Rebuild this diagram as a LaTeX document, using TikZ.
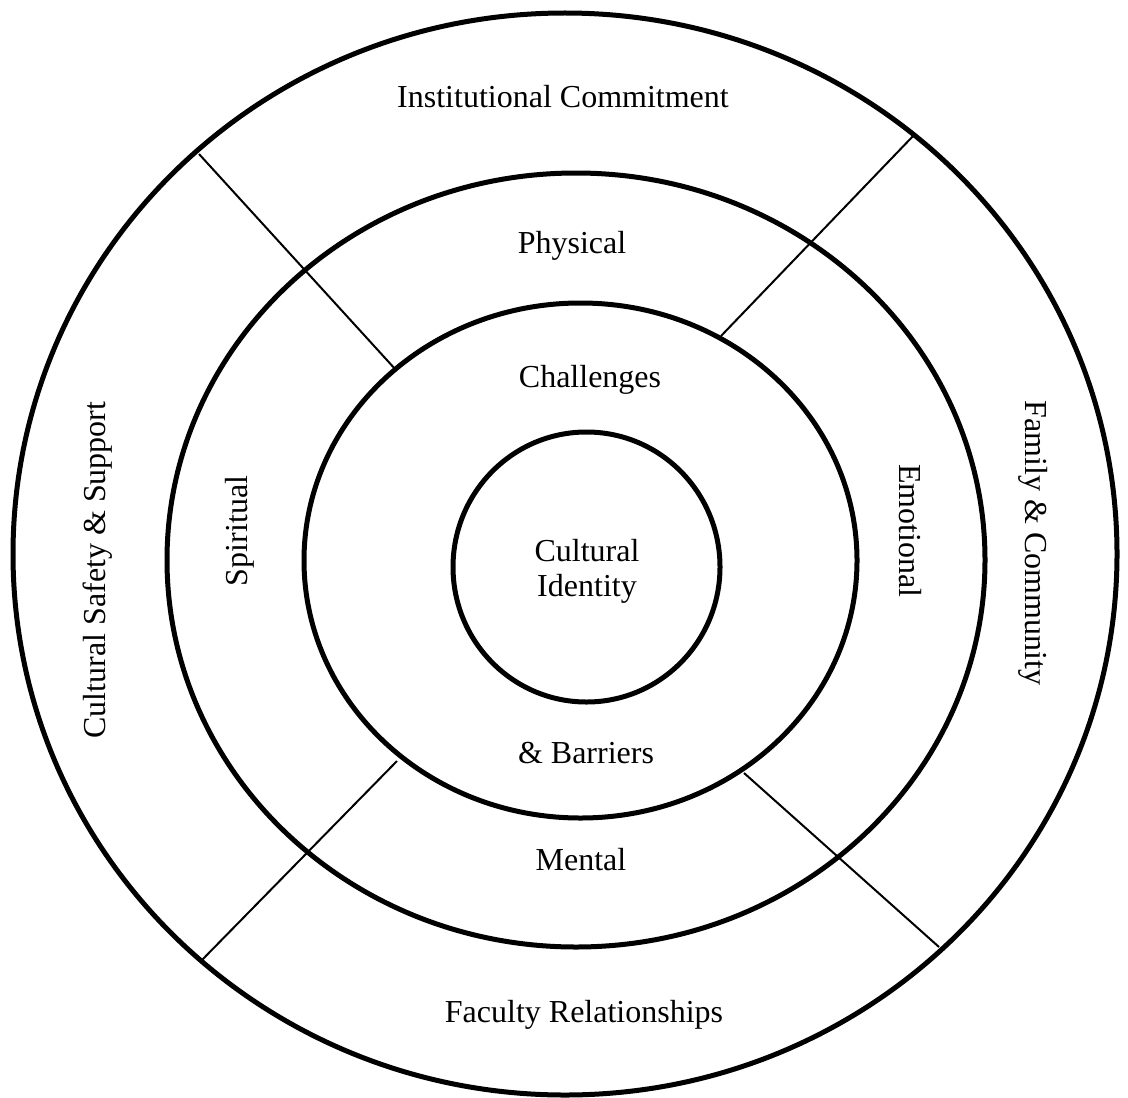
\documentclass[tikz,border=0pt]{standalone}
\usepackage{fontspec}
\setmainfont{Liberation Serif}

\begin{document}
\begin{tikzpicture}[x=.5pt, y=-.5pt]
  %--------------------------------------------
  % Área da figura (coordenadas em pixels)
  %--------------------------------------------
  \useasboundingbox (0,0) rectangle (1128,1097);

  %--------------------------------------------
  % Espessura dos traços
  %--------------------------------------------
  \def\lwanel{2.5pt}   % contorno dos anéis
  \def\lwdiv{1pt}      % linhas divisórias

  %--------------------------------------------
  % Estilos
  %--------------------------------------------
  \tikzstyle{anel} = [draw, line width=\lwanel]
  \tikzstyle{divisa} = [draw, line width=\lwdiv]
  \tikzstyle{rotulo} = [
    inner sep=0pt, anchor=base,               % posição pela linha de base
    font=\fontsize{16}{17.5}\selectfont       % tamanho do texto
  ]

  %--------------------------------------------
  % Anéis concêntricos: centro x/y e raios x/y
  %--------------------------------------------
  \foreach \cx/\cy/\rx/\ry in {565/554/552/541, 576/560/409/387,
    580.5/560.5/276.5/257.5, 586.5/567/133.5/135}
  {
    \draw[anel] (\cx,\cy) ellipse [x radius=\rx*.5pt, y radius=\ry*.5pt];
  }

  %--------------------------------------------
  % Pontas das divisórias
  %--------------------------------------------
  \coordinate (no-a) at (199,154);
  \coordinate (no-b) at (396,370);
  \coordinate (ne-a) at (915,134);
  \coordinate (ne-b) at (721,336);
  \coordinate (se-a) at (744,773);
  \coordinate (se-b) at (939,947);
  \coordinate (so-a) at (397,761);
  \coordinate (so-b) at (200,962);

  % liga cada par de pontas
  \foreach \a/\b in {no-a/no-b, ne-a/ne-b, se-a/se-b, so-a/so-b}
    \draw[divisa] (\a) -- (\b);

  %--------------------------------------------
  % Rótulos horizontais
  %--------------------------------------------
  \node[rotulo] (institucional) at (563,107) {Institutional Commitment};
  \node[rotulo] (fisico) at (572,253) {Physical};
  \node[rotulo] (desafios) at (590,387) {Challenges};
  \node[rotulo, anchor=center, align=center] (identidade) at (587,571) {Cultural\\Identity};
  \node[rotulo] (barreiras) at (586,763) {\& Barriers};
  \node[rotulo] (mental) at (581,870) {Mental};
  \node[rotulo] (docentes) at (584,1022) {Faculty Relationships};

  %--------------------------------------------
  % Rótulos verticais
  %--------------------------------------------
  \node[rotulo, rotate=90] (seguranca) at (105,570) {Cultural Safety \& Support};
  \node[rotulo, rotate=90] (espiritual) at (247,531) {Spiritual};
  \node[rotulo, rotate=-90] (emocional) at (899,531) {Emotional};
  \node[rotulo, rotate=-90] (familia) at (1025,543) {Family \& Community};
\end{tikzpicture}
\end{document}
